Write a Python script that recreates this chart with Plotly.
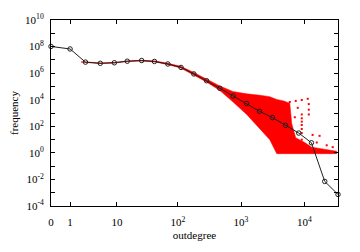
import plotly.graph_objects as go

# Binned (log-bin) distribution: black line with open circles
bin_outdegree = [0, 1, 2.5, 5, 9, 15, 26, 42, 69, 112, 179, 285, 462, 749,
                 1221, 1957, 3139, 5034, 8165, 12939, 20989, 33999]
bin_log_freq = [8.01, 7.82, 6.83, 6.74, 6.78, 6.90, 6.95, 6.88, 6.69, 6.43,
                5.94, 5.43, 4.86, 4.28, 3.72, 3.13, 2.66, 2.07, 1.49, 0.76,
                -2.15, -3.13]

# Raw distribution: dense red cloud outline (upper edge then lower edge)
cloud_outdegree = [2, 5, 9, 15, 25, 43, 69, 111, 179, 288, 463, 742, 1230,
                   1980, 2845, 3670, 4730, 5890, 6330, 7310, 10150, 13090, 32400,
                   32400, 3670, 2845, 1980, 1230, 742, 463, 288, 179, 111, 69,
                   43, 25, 15, 9, 5, 2]
cloud_log_freq = [6.86, 6.77, 6.81, 6.92, 6.97, 6.92, 6.74, 6.51, 6.05, 5.56,
                  5.03, 4.62, 4.44, 4.34, 4.23, 4.02, 3.91, 3.74, 2.19, 1.14,
                  0.78, 0.43, 0.12,
                  -0.06, -0.06, 0.99, 1.84, 2.89, 3.84, 4.69, 5.32, 5.85, 6.38,
                  6.64, 6.84, 6.91, 6.87, 6.76, 6.73, 6.82]

# Raw distribution: scattered single points outside the dense cloud
outlier_outdegree = [5890, 7310, 9100, 11320, 11750, 11750, 11750, 9100, 9100,
                     9100, 9100, 9100, 9100, 9100, 13500, 17400, 15700, 22540,
                     28050, 7870, 7070]
outlier_log_freq = [3.83, 3.91, 3.98, 4.07, 3.67, 3.25, 2.89, 2.89, 2.60, 2.35,
                    2.10, 1.80, 1.49, 0.99, 1.35, 1.28, 0.78, 0.57, 0.43, 3.39,
                    2.68]

x_tick_degree = [0, 1, 10, 100, 1000, 10000]
x_tick_text = ["0", "1", "10", "10<sup>2</sup>", "10<sup>3</sup>", "10<sup>4</sup>"]
y_tick_exp = list(range(-4, 11))

font = dict(family="Liberation Serif", size=11, color="black")

fig = go.Figure()
fig.add_trace(go.Scatter(
    x=[d + 1 for d in cloud_outdegree],
    y=[10 ** v for v in cloud_log_freq],
    mode="lines", fill="toself", fillcolor="#ff0000",
    line=dict(color="#ff0000", width=0.5), hoverinfo="skip", showlegend=False))
fig.add_trace(go.Scatter(
    x=[d + 1 for d in outlier_outdegree],
    y=[10 ** v for v in outlier_log_freq],
    mode="markers", marker=dict(symbol="square", size=2, color="#ff0000"),
    showlegend=False))
fig.add_trace(go.Scatter(
    x=[d + 1 for d in bin_outdegree],
    y=[10 ** v for v in bin_log_freq],
    mode="lines+markers", cliponaxis=False,
    line=dict(color="#202020", width=1),
    marker=dict(symbol="circle-open", size=4.5, color="#202020", line=dict(width=1)),
    showlegend=False))

fig.update_layout(
    width=360, height=252, margin=dict(l=51, r=22, t=14, b=39),
    paper_bgcolor="white", plot_bgcolor="white", font=font,
)
fig.update_xaxes(
    type="log", range=[0, 4.5315],
    tickvals=[d + 1 for d in x_tick_degree], ticktext=x_tick_text,
    ticks="inside", ticklen=4, tickcolor="black",
    showline=True, linecolor="black", linewidth=1, mirror="ticks",
    showgrid=False, zeroline=False, ticklabelstandoff=6,
    title=dict(text="outdegree", font=font, standoff=4),
)
fig.update_yaxes(
    type="log", range=[-4, 10],
    tickvals=[10 ** e for e in y_tick_exp],
    ticktext=[("10<sup>%d</sup>" % e) if e % 2 == 0 else "" for e in y_tick_exp],
    ticks="inside", ticklen=4, tickcolor="black",
    showline=True, linecolor="black", linewidth=1, mirror="ticks",
    showgrid=False, zeroline=False, ticklabelstandoff=4,
    title=dict(text="frequency", font=font, standoff=4),
)
fig.write_html("out.html")
